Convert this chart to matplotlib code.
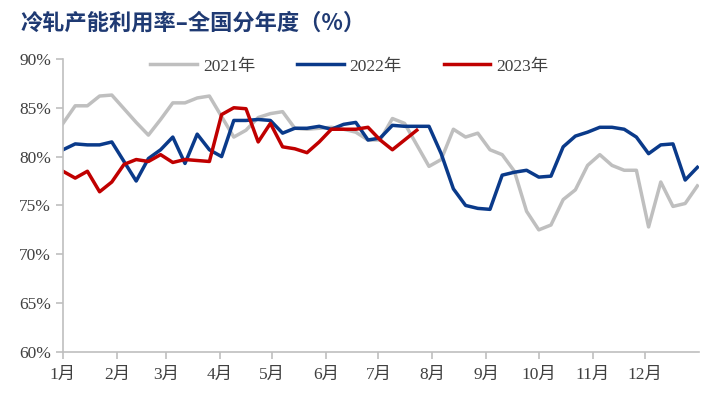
import numpy as np
import matplotlib.pyplot as plt

plt.rcParams['font.family'] = ['Liberation Serif', 'Noto Sans CJK SC']

# weekly capacity utilisation (%), week index 0..52
rate_2021 = [83.4, 85.2, 85.2, 86.2, 86.3, 84.9, 83.5, 82.2, 83.8, 85.5,
             85.5, 86.0, 86.2, 84.1, 82.0, 82.7, 84.0, 84.4, 84.6, 82.9,
             82.8, 82.9, 83.0, 82.8, 82.5, 81.7, 81.7, 83.9, 83.4, 81.2,
             79.0, 79.7, 82.8, 82.0, 82.4, 80.7, 80.2, 78.5, 74.4, 72.5,
             73.0, 75.6, 76.6, 79.1, 80.2, 79.1, 78.6, 78.6, 72.8, 77.4,
             74.9, 75.2, 77.0]
rate_2022 = [80.7, 81.3, 81.2, 81.2, 81.5, 79.5, 77.5, 79.8, 80.7, 82.0,
             79.3, 82.3, 80.7, 80.0, 83.7, 83.7, 83.8, 83.7, 82.4, 82.9,
             82.9, 83.1, 82.8, 83.3, 83.5, 81.7, 81.9, 83.2, 83.1, 83.1,
             83.1, 80.3, 76.7, 75.0, 74.7, 74.6, 78.1, 78.4, 78.6, 77.9,
             78.0, 81.0, 82.1, 82.5, 83.0, 83.0, 82.8, 82.0, 80.3, 81.2,
             81.3, 77.6, 78.9]
rate_2023 = [78.5, 77.8, 78.5, 76.4, 77.4, 79.2, 79.7, 79.5, 80.2, 79.4,
             79.7, 79.6, 79.5, 84.3, 85.0, 84.9, 81.5, 83.4, 81.0, 80.8,
             80.4, 81.5, 82.8, 82.8, 82.8, 83.0, 81.7, 80.7, 81.7, 82.7]

month_labels = ['1月', '2月', '3月', '4月', '5月', '6月', '7月', '8月', '9月', '10月', '11月', '12月']
month_starts = [0, 31, 59, 90, 120, 151, 181, 212, 243, 273, 304, 334]

def days(vals):
    return np.arange(len(vals)) * 7

fig = plt.figure(figsize=(7.2, 3.98), dpi=100)
ax = fig.add_axes([0.0875, 0.1156, 0.8835, 0.7364])

ax.plot(days(rate_2021), rate_2021, color='#BFBFBF', lw=2.5, label='2021年')
ax.plot(days(rate_2022), rate_2022, color='#0A3A8A', lw=2.5, label='2022年')
ax.plot(days(rate_2023), rate_2023, color='#C00000', lw=2.5, label='2023年')

ax.set_xlim(0, 365)
ax.set_ylim(60, 90)
ax.set_yticks(range(60, 91, 5))
ax.set_yticklabels([f'{v}%' for v in range(60, 91, 5)])
ax.set_xticks(month_starts)
ax.set_xticklabels(month_labels)

for s in ['top', 'right']:
    ax.spines[s].set_visible(False)
for s in ['left', 'bottom']:
    ax.spines[s].set_color('#BFBFBF')
    ax.spines[s].set_linewidth(1.2)
ax.tick_params(axis='both', colors='#BFBFBF', length=5, width=1.2, labelsize=12.5,
               labelcolor='#404040')
ax.tick_params(axis='x', pad=6)

ax.legend(loc='upper center', bbox_to_anchor=(0.45, 1.055), ncol=3, frameon=False,
          fontsize=12.5, handlelength=2.7, handletextpad=0.35, columnspacing=2.4,
          labelcolor='#404040')

fig.text(0.028, 0.943, '冷轧产能利用率–全国分年度（%）', fontsize=16, fontweight='bold',
         color='#1F3A73', family=['Noto Sans CJK SC', 'DejaVu Sans'], va='center')

fig.savefig('out.png', dpi=100)
